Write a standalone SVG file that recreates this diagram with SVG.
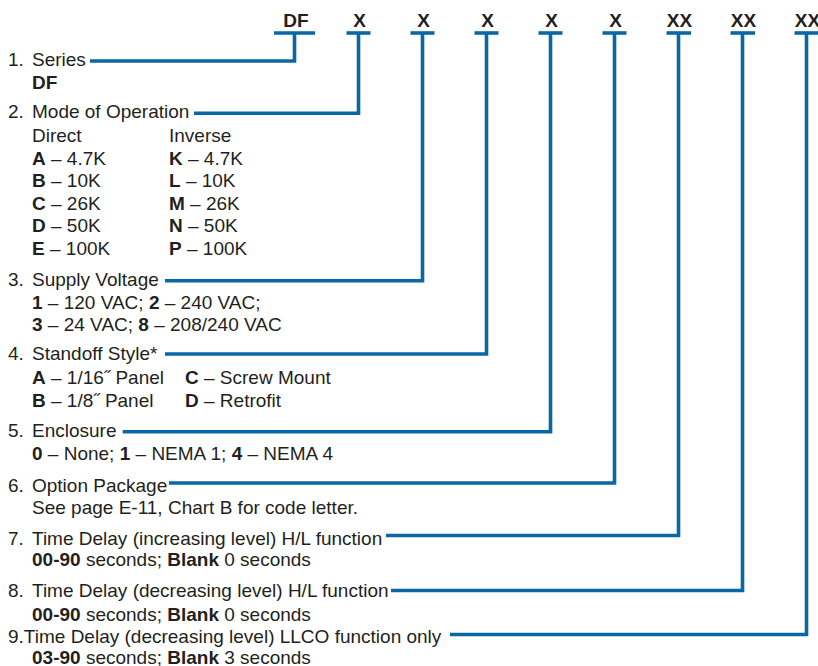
<svg xmlns="http://www.w3.org/2000/svg" width="818" height="666" viewBox="0 0 818 666">
<style>
text{font-family:"Liberation Sans",Arial,sans-serif;font-size:19px;fill:#231f20}
.b{font-weight:bold}
.code{font-weight:bold;font-size:19px;text-anchor:middle}
.ln{fill:none;stroke:#0867a6;stroke-width:3.6;stroke-linejoin:miter;stroke-linecap:butt}
</style>
<rect width="818" height="666" fill="#ffffff"/>
<g id="codes">
<text class="code" x="296" y="27">DF</text>
<text class="code" x="359.5" y="27">X</text>
<text class="code" x="423.5" y="27">X</text>
<text class="code" x="487.5" y="27">X</text>
<text class="code" x="551.5" y="27">X</text>
<text class="code" x="615.5" y="27">X</text>
<text class="code" x="679.5" y="27">XX</text>
<text class="code" x="743.5" y="27">XX</text>
<text class="code" x="807.5" y="27">XX</text>
</g>
<g id="connectors">
<path class="ln" d="M274,33 H315"/>
<path class="ln" d="M346.5,33 H370.5"/>
<path class="ln" d="M410.5,33 H434.5"/>
<path class="ln" d="M474.5,33 H498.5"/>
<path class="ln" d="M538.5,33 H562.5"/>
<path class="ln" d="M602.5,33 H626.5"/>
<path class="ln" d="M666.5,33 H691"/>
<path class="ln" d="M730.5,33 H755"/>
<path class="ln" d="M794.5,33 H818"/>
<path class="ln" d="M90,61 H294.5 V33"/>
<path class="ln" d="M194,113.3 H358.5 V33"/>
<path class="ln" d="M165,280.7 H422.5 V33"/>
<path class="ln" d="M165,354 H486.5 V33"/>
<path class="ln" d="M122.7,431.7 H550.5 V33"/>
<path class="ln" d="M169,483 H614.5 V33"/>
<path class="ln" d="M386,535.5 H678.5 V33"/>
<path class="ln" d="M391,590.5 H742.5 V33"/>
<path class="ln" d="M450,634.5 H806.5 V33"/>
</g>
<g id="item1">
<text x="8" y="65.7">1.</text><text x="32" y="65.7">Series</text>
<text class="b" x="32" y="89">DF</text>
</g>
<g id="item2">
<text x="8" y="118">2.</text><text x="32" y="118">Mode of Operation</text>
<text x="32" y="141.5">Direct</text><text x="169" y="141.5">Inverse</text>
<text x="32" y="164.5"><tspan class="b">A</tspan> – 4.7K</text><text x="169" y="164.5"><tspan class="b">K</tspan> – 4.7K</text>
<text x="32" y="187"><tspan class="b">B</tspan> – 10K</text><text x="169" y="187"><tspan class="b">L</tspan> – 10K</text>
<text x="32" y="209.5"><tspan class="b">C</tspan> – 26K</text><text x="169" y="209.5"><tspan class="b">M</tspan> – 26K</text>
<text x="32" y="232.3"><tspan class="b">D</tspan> – 50K</text><text x="169" y="232.3"><tspan class="b">N</tspan> – 50K</text>
<text x="32" y="255"><tspan class="b">E</tspan> – 100K</text><text x="169" y="255"><tspan class="b">P</tspan> – 100K</text>
</g>
<g id="item3">
<text x="8" y="286">3.</text><text x="32" y="286">Supply Voltage</text>
<text x="32" y="309"><tspan class="b">1</tspan> – 120 VAC; <tspan class="b">2</tspan> – 240 VAC;</text>
<text x="32" y="331"><tspan class="b">3</tspan> – 24 VAC; <tspan class="b">8</tspan> – 208/240 VAC</text>
</g>
<g id="item4">
<text x="8" y="360">4.</text><text x="32" y="360">Standoff Style*</text>
<text x="32" y="384"><tspan class="b">A</tspan> – 1/16˝ Panel</text><text x="185" y="384"><tspan class="b">C</tspan> – Screw Mount</text>
<text x="32" y="406.5"><tspan class="b">B</tspan> – 1/8˝ Panel</text><text x="185" y="406.5"><tspan class="b">D</tspan> – Retrofit</text>
</g>
<g id="item5">
<text x="8" y="437">5.</text><text x="32" y="437">Enclosure</text>
<text x="32" y="460"><tspan class="b">0</tspan> – None; <tspan class="b">1</tspan> – NEMA 1; <tspan class="b">4</tspan> – NEMA 4</text>
</g>
<g id="item6">
<text x="8" y="491.5">6.</text><text x="32" y="491.5">Option Package</text>
<text x="32" y="513.5">See page E-11, Chart B for code letter.</text>
</g>
<g id="item7">
<text x="8" y="545">7.</text><text x="32" y="545">Time Delay (increasing level) H/L function</text>
<text x="32" y="566"><tspan class="b">00-90</tspan> seconds; <tspan class="b">Blank</tspan> 0 seconds</text>
</g>
<g id="item8">
<text x="8" y="597">8.</text><text x="32" y="597">Time Delay (decreasing level) H/L function</text>
<text x="32" y="620.5"><tspan class="b">00-90</tspan> seconds; <tspan class="b">Blank</tspan> 0 seconds</text>
</g>
<g id="item9">
<text x="8" y="642.5">9.Time Delay (decreasing level) LLCO function only</text>
<text x="32" y="664"><tspan class="b">03-90</tspan> seconds; <tspan class="b">Blank</tspan> 3 seconds</text>
</g>
</svg>
